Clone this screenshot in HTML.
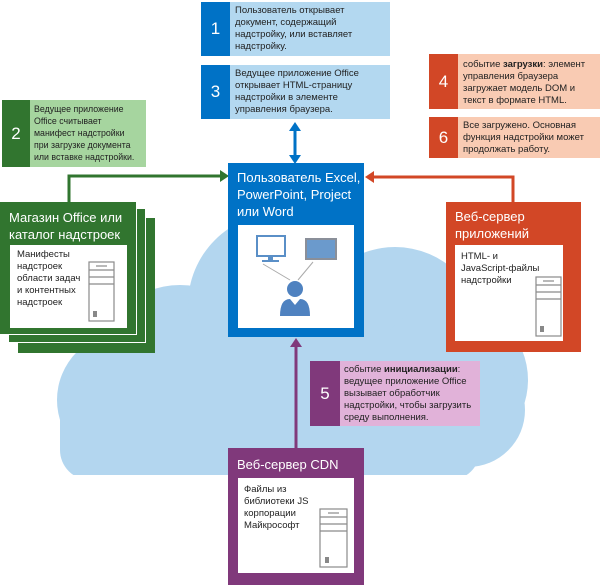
<!DOCTYPE html>
<html><head><meta charset="utf-8"><style>
body{margin:0;width:600px;height:585px;background:#fff;position:relative;overflow:hidden;font-family:"Liberation Sans","DejaVu Sans",sans-serif;}
.a{position:absolute;box-sizing:border-box;}
.t{font-size:9.5px;line-height:12px;color:#222;}
.n{color:#fff;font-size:17px;display:flex;align-items:center;justify-content:center;}
.h{color:#fff;font-size:13px;line-height:17px;}
.w{background:#fff;}
</style></head><body>
<svg class="a" style="left:0;top:0" width="600" height="585">
<defs><clipPath id="c"><rect x="0" y="0" width="600" height="475"/></clipPath></defs>
<g fill="#b3d6ef" clip-path="url(#c)">
<circle cx="125" cy="400" r="68"/>
<circle cx="180" cy="370" r="85"/>
<circle cx="280" cy="305" r="92"/>
<circle cx="395" cy="335" r="88"/>
<circle cx="450" cy="380" r="78"/>
<circle cx="468" cy="410" r="57"/>
<rect x="60" y="380" width="420" height="100" rx="30"/>
<rect x="120" y="340" width="330" height="140"/>
</g>
<line x1="295" y1="128" x2="295" y2="158" stroke="#0072c6" stroke-width="3"/>
<polygon points="289,131 295,122 301,131" fill="#0072c6"/>
<polygon points="289,155 295,164 301,155" fill="#0072c6"/>
<polyline points="69,203 69,176 222,176" stroke="#31752f" stroke-width="3" fill="none"/>
<polygon points="220,170 229,176 220,182" fill="#31752f"/>
<polyline points="513,203 513,177 372,177" stroke="#d24726" stroke-width="3" fill="none"/>
<polygon points="374,171 365,177 374,183" fill="#d24726"/>
<line x1="296" y1="448" x2="296" y2="346" stroke="#80397b" stroke-width="3"/>
<polygon points="290,347 296,338 302,347" fill="#80397b"/>
</svg>

<div class="a n" style="left:201px;top:2px;width:29px;height:54px;background:#0072c6">1</div>
<div class="a t" style="left:230px;top:2px;width:160px;height:54px;background:#b3d8f0;padding:3px 5px">Пользователь открывает документ, содержащий надстройку, или вставляет надстройку.</div>
<div class="a n" style="left:201px;top:65px;width:29px;height:54px;background:#0072c6">3</div>
<div class="a t" style="left:230px;top:65px;width:160px;height:54px;background:#b3d8f0;padding:3px 5px">Ведущее приложение Office открывает HTML-страницу надстройки в элементе управления браузера.</div>
<div class="a n" style="left:2px;top:100px;width:28px;height:67px;background:#31752f">2</div>
<div class="a t" style="left:30px;top:100px;width:116px;height:67px;background:#a6d59f;padding:3px 3px 0 4px;font-size:8.8px;line-height:12px;white-space:nowrap">Ведущее приложение<br>Office считывает<br>манифест надстройки<br>при загрузке документа<br>или вставке надстройки.</div>
<div class="a n" style="left:429px;top:54px;width:29px;height:55px;background:#d24726">4</div>
<div class="a t" style="left:458px;top:54px;width:142px;height:55px;background:#f9cbb3;padding:5px 5px">событие <b>загрузки</b>: элемент управления браузера загружает модель DOM и текст в формате HTML.</div>
<div class="a n" style="left:429px;top:117px;width:29px;height:41px;background:#d24726">6</div>
<div class="a t" style="left:458px;top:117px;width:142px;height:41px;background:#f9cbb3;padding:3px 5px">Все загружено. Основная функция надстройки может продолжать работу.</div>
<div class="a n" style="left:310px;top:361px;width:30px;height:65px;background:#80397b">5</div>
<div class="a t" style="left:340px;top:361px;width:140px;height:65px;background:#e1b2d9;padding:3px 4px">событие <b>инициализации</b>: ведущее приложение Office вызывает обработчик надстройки, чтобы загрузить среду выполнения.</div>

<div class="a" style="left:18px;top:218px;width:137px;height:135px;background:#31752f"></div>
<div class="a" style="left:9px;top:209px;width:137px;height:134px;background:#31752f;border-bottom:1px solid #fff;border-right:1px solid #fff"></div>
<div class="a" style="left:0px;top:202px;width:137px;height:133px;background:#31752f;border-bottom:1px solid #fff;border-right:1px solid #fff"></div>
<div class="a h" style="left:9px;top:209px;">Магазин Office или<br>каталог надстроек</div>
<div class="a w t" style="left:10px;top:245px;width:117px;height:83px;padding:4px 7px">Манифесты<br>надстроек<br>области задач<br>и контентных<br>надстроек</div>

<div class="a" style="left:228px;top:163px;width:136px;height:174px;background:#0072c6"></div>
<div class="a h" style="left:237px;top:169px;">Пользователь Excel,<br>PowerPoint, Project<br>или Word</div>
<div class="a w" style="left:238px;top:225px;width:116px;height:103px"></div>
<svg class="a" style="left:238px;top:225px" width="116" height="103">
<rect x="19" y="11" width="28" height="20" fill="#fff" stroke="#5a8fc7" stroke-width="2"/>
<rect x="30" y="31" width="5" height="4" fill="#5a8fc7"/><rect x="24" y="35" width="17" height="2" fill="#5a8fc7"/>
<rect x="68" y="14" width="30" height="20" fill="#6b9acc" stroke="#8a8f99" stroke-width="2"/>
<line x1="25" y1="39" x2="52" y2="55" stroke="#aaa"/><line x1="75" y1="37" x2="60" y2="55" stroke="#aaa"/>
<circle cx="57" cy="64" r="8" fill="#4f82c0"/>
<path d="M42,91 Q42,74 52,74 L57,80 L62,74 Q72,74 72,91 Z" fill="#4f82c0"/>
</svg>

<div class="a" style="left:446px;top:202px;width:135px;height:150px;background:#d24726"></div>
<div class="a h" style="left:455px;top:208px;">Веб-сервер<br>приложений</div>
<div class="a w t" style="left:455px;top:245px;width:108px;height:96px;padding:6px 6px">HTML- и<br>JavaScript-файлы<br>надстройки</div>

<div class="a" style="left:228px;top:448px;width:136px;height:137px;background:#80397b"></div>
<div class="a h" style="left:237px;top:456px;">Веб-сервер CDN</div>
<div class="a w t" style="left:238px;top:478px;width:116px;height:95px;padding:6px 6px">Файлы из<br>библиотеки JS<br>корпорации<br>Майкрософт</div>

<svg class="a" style="left:0;top:0" width="600" height="585" fill="none" stroke="#8a8a8a" stroke-width="1.2">
<g transform="translate(89,262)"><rect x="0" y="0" width="25" height="59"/><line x1="0" y1="8" x2="25" y2="8"/><line x1="0" y1="15" x2="25" y2="15"/><line x1="0" y1="22" x2="25" y2="22"/><line x1="7" y1="4" x2="18" y2="4"/><rect x="4" y="49" width="4" height="6" fill="#888" stroke="none"/></g>
<g transform="translate(536,277)"><rect x="0" y="0" width="25" height="59"/><line x1="0" y1="8" x2="25" y2="8"/><line x1="0" y1="15" x2="25" y2="15"/><line x1="0" y1="22" x2="25" y2="22"/><line x1="7" y1="4" x2="18" y2="4"/><rect x="4" y="49" width="4" height="6" fill="#888" stroke="none"/></g>
<g transform="translate(320,509)"><rect x="0" y="0" width="27" height="58"/><line x1="0" y1="8" x2="27" y2="8"/><line x1="0" y1="15" x2="27" y2="15"/><line x1="0" y1="22" x2="27" y2="22"/><line x1="8" y1="4" x2="19" y2="4"/><rect x="5" y="48" width="4" height="6" fill="#888" stroke="none"/></g>
</svg>
</body></html>
